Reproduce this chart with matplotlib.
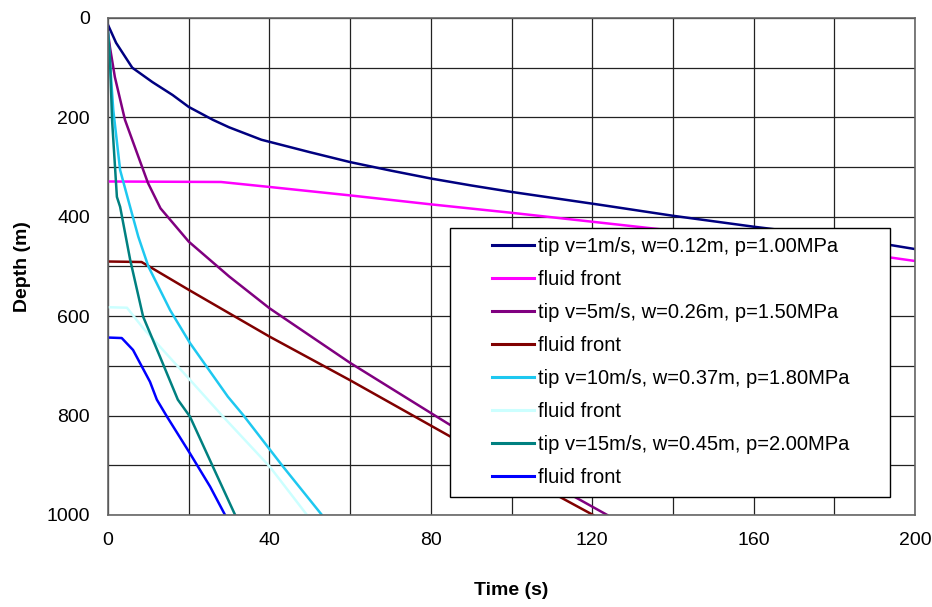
import matplotlib
matplotlib.use('Agg')
import matplotlib.pyplot as plt
from matplotlib.patches import Rectangle
import numpy as np

plt.rcParams['font.family'] = ['Liberation Sans', 'DejaVu Sans']

# time (s) / depth (m) pairs for each run
tip1_t = [0, 2, 6, 11, 16, 20, 26, 30, 38, 50, 60, 70, 80, 90, 100, 122, 140, 160, 180, 194, 200]
tip1_d = [14, 50, 100, 129, 155, 179, 205, 220, 245, 270, 290, 307, 323, 337, 350, 376, 398, 420, 440, 457, 465]
ff1_t = [0, 28, 40, 60, 80, 100, 120, 140, 160, 180, 200]
ff1_d = [329, 330, 340, 357, 375, 392, 410, 428, 447, 466, 489]

tip5_t = [0, 0.5, 1.7, 4.2, 7.2, 9.9, 13, 20, 30, 40, 60, 84, 100, 123.7]
tip5_d = [30, 60, 119, 205, 272, 332, 383, 450, 520, 584, 694, 815, 893, 1000]
ff5_t = [0, 8.3, 10, 20, 40, 60, 85, 100, 120.2]
ff5_d = [490, 491, 499, 547, 641, 729, 843, 911, 1000]

tip10_t = [0, 0.5, 1.3, 3, 5, 7.5, 10, 15.4, 20.3, 29.7, 33.5, 43.4, 53]
tip10_d = [30, 90, 185, 306, 366, 440, 500, 588, 654, 762, 799, 903, 1000]
ff10_t = [0, 4.7, 8.7, 20.3, 28.5, 40.1, 49.3]
ff10_d = [582, 583, 624, 728, 802, 903, 1000]

tip15_t = [0, 0.5, 1, 2.2, 3, 5.5, 8.7, 12.9, 17.3, 20.3, 26, 31.5]
tip15_d = [30, 85, 205, 360, 380, 487, 601, 682, 768, 802, 903, 1000]
ff15_t = [0, 3.4, 6.2, 10.4, 12.1, 14.6, 20.3, 25.3, 29]
ff15_d = [643, 644, 668, 732, 768, 802, 876, 943, 1000]

series = [
    (tip1_t, tip1_d, '#000080', 'tip v=1m/s, w=0.12m, p=1.00MPa'),
    (ff1_t, ff1_d, '#FF00FF', 'fluid front'),
    (tip5_t, tip5_d, '#800080', 'tip v=5m/s, w=0.26m, p=1.50MPa'),
    (ff5_t, ff5_d, '#800000', 'fluid front'),
    (tip10_t, tip10_d, '#1EC8F0', 'tip v=10m/s, w=0.37m, p=1.80MPa'),
    (ff10_t, ff10_d, '#CCFFFF', 'fluid front'),
    (tip15_t, tip15_d, '#008080', 'tip v=15m/s, w=0.45m, p=2.00MPa'),
    (ff15_t, ff15_d, '#0000FF', 'fluid front'),
]

fig = plt.figure(figsize=(9.32, 6.07), dpi=100)
ax = fig.add_axes([0.1159, 0.1516, 0.866, 0.8188])

for t, d, c, lab in series:
    ax.plot(t, d, color=c, lw=1.8, label=lab, zorder=2)

ax.set_xlim(0, 200)
ax.set_ylim(1000, 0)
ax.set_xticks(np.arange(0, 201, 40))
ax.set_xticks(np.arange(0, 201, 20), minor=True)
ax.set_yticks(np.arange(0, 1001, 200))
ax.set_yticks(np.arange(0, 1001, 100), minor=True)
ax.grid(True, which='both', color='#222222', lw=0.9, zorder=1)
ax.set_axisbelow(True)
ax.tick_params(which='both', length=0, labelsize=14)
ax.tick_params(axis='x', pad=12)
ax.tick_params(axis='y', pad=13)
for s in ax.spines.values():
    s.set_color('#666666')
    s.set_linewidth(1.2)

ax.set_xlabel('Time (s)', fontsize=14, fontweight='bold', labelpad=24)
ax.set_ylabel('Depth (m)', fontsize=14, fontweight='bold')
ax.yaxis.set_label_coords(-0.095, 0.5)

# legend box, wider padding on the sides than top/bottom
box = Rectangle((0.4238, 0.0362), 0.5452, 0.5412, transform=ax.transAxes,
                facecolor='white', edgecolor='black', lw=1.0, zorder=4)
ax.add_patch(box)
leg = ax.legend(loc='upper left', bbox_to_anchor=(0.4758, 0.5584), fontsize=14.5,
                frameon=False, handlelength=2.1, handletextpad=0.2,
                labelspacing=0.69, borderpad=0, borderaxespad=0)
leg.set_zorder(5)
for ln in leg.get_lines():
    ln.set_linewidth(2.2)

fig.savefig('out.png', dpi=100)
